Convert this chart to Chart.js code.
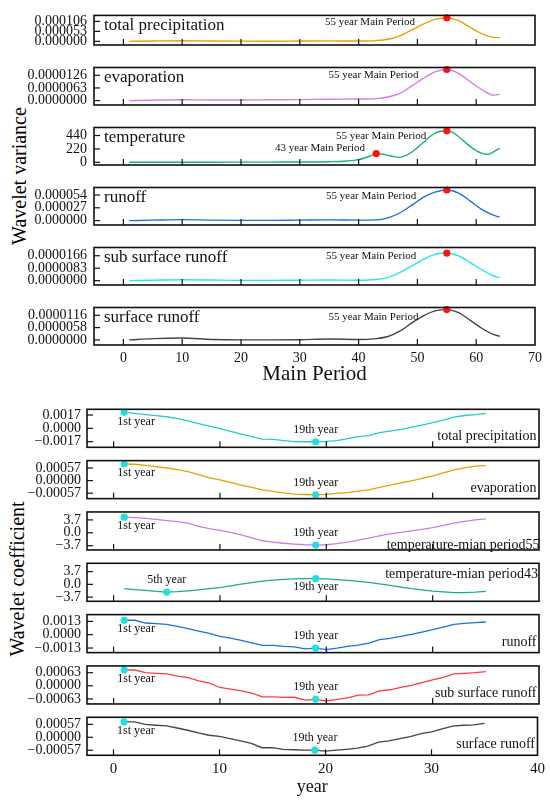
<!DOCTYPE html>
<html><head><meta charset="utf-8">
<script src="https://cdn.jsdelivr.net/npm/chart.js@4.4.0/dist/chart.umd.min.js"></script>
<style>
html,body{margin:0;padding:0;background:#fff;}
#wrap{position:relative;width:550px;height:803px;overflow:hidden;background:#fff;}
canvas{position:absolute;left:0;top:0;}
.ytitle{position:absolute;font-family:"Liberation Serif";font-size:20px;line-height:20px;white-space:nowrap;transform:translate(-50%,-50%) rotate(-90deg);color:#000;}
</style></head><body><div id="wrap">
<div class="ytitle" style="left:19px;top:176px;">Wavelet variance</div>
<div class="ytitle" style="left:17px;top:579px;">Wavelet coefficient</div>
</div>
<script>
// ---------- DATA: wavelet variance (top) ----------
const periods     = [1,5,10,15,20,25,30,35,40,43,45,47,49,51,53,55,57,59,61,63,64];
const varPrecip   = [0,2e-6,3.5e-6,2e-6,1e-6,0.5e-6,1.5e-6,2.5e-6,1.5e-6,4e-6,1.1e-5,2.9e-5,6.0e-5,9.2e-5,1.17e-4,1.256e-4,1.10e-4,7.4e-5,4.0e-5,2.1e-5,1.95e-5];
const varEvap     = [0,2e-7,4e-7,3e-7,3e-7,4e-7,5e-7,7e-7,8e-7,1.0e-6,1.8e-6,3.6e-6,7.2e-6,1.11e-5,1.43e-5,1.55e-5,1.36e-5,9.4e-6,5.4e-6,2.7e-6,3.2e-6];
const tempPeriods = [1,5,10,15,20,25,30,35,38,40,41,42,43,44,45,46,47,48,49,50,51,52,53,54,55,56,57,58,59,60,61,62,63,64];
const varTemp     = [0,1,2,2,3,4,5,10,22,44,71,104,143,137,115,93,82,110,165,242,324,412,478,511,517,490,423,341,258,192,148,132,176,231];
const varRunoff   = [0,1e-6,2e-6,1e-6,0.5e-6,0.5e-6,1e-6,1.5e-6,1e-6,1.5e-6,5.8e-6,1.6e-5,3.2e-5,4.9e-5,6.0e-5,6.45e-5,5.8e-5,4.1e-5,2.3e-5,1.1e-5,7.2e-6];
const varSubSurf  = [0,3e-7,6e-7,4e-7,2e-7,2e-7,3e-7,4e-7,3e-7,8e-7,2.2e-6,5.3e-6,9.7e-6,1.42e-5,1.75e-5,1.84e-5,1.66e-5,1.2e-5,7.1e-6,3.1e-6,1.8e-6];
const varSurf     = [0,6e-7,9e-7,2e-7,0,0,1e-7,4e-7,2e-7,6e-7,1.6e-6,4.1e-6,7.9e-6,1.14e-5,1.37e-5,1.43e-5,1.29e-5,9.2e-6,5.4e-6,2.5e-6,1.7e-6];
const topXTicks   = [0,10,20,30,40,50,60,70];

// ---------- DATA: wavelet coefficient (bottom) ----------
const years = [1,2,3,4,5,6,7,8,9,10,11,12,13,14,15,16,17,18,19,20,21,22,23,24,25,26,27,28,29,30,31,32,33,34,35];
const coefPrecip = [0.00204,0.00192,0.00176,0.00161,0.00148,0.00125,0.00096,0.00061,0.00029,-0.00003,-0.00038,-0.00073,-0.00105,-0.00137,-0.00141,-0.00156,-0.00169,-0.00171,-0.00171,-0.00166,-0.00156,-0.0013,-0.00105,-0.00092,-0.00056,-0.00035,-0.00013,0.00013,0.00042,0.00072,0.00106,0.00144,0.00164,0.00176,0.00192];
const coefEvap   = [0.00075,0.00074,0.00069,0.00063,0.00057,0.0005,0.00041,0.00027,0.00012,0.00003,-0.00008,-0.0002,-0.00031,-0.00042,-0.00049,-0.00056,-0.00061,-0.00063,-0.00064,-0.00062,-0.00058,-0.00054,-0.00048,-0.00042,-0.00031,-0.0002,-0.0001,-0.00001,0.0001,0.00021,0.00035,0.00049,0.00058,0.00065,0.00068];
const coefTemp55 = [4.47,4.33,4.13,3.84,3.5,3.19,2.76,1.85,1.22,0.71,0.14,-0.57,-1.42,-2.28,-2.65,-2.99,-3.22,-3.42,-3.5,-3.42,-3.13,-2.7,-2.13,-1.51,-0.85,-0.28,0.14,0.57,1.0,1.51,2.13,2.76,3.27,3.7,3.98];
const coefTemp43 = [-1.25,-1.51,-1.75,-2.04,-2.24,-2.12,-1.89,-1.6,-1.25,-0.96,-0.44,0.06,0.52,0.96,1.22,1.46,1.6,1.66,1.66,1.6,1.4,1.16,0.87,0.58,0.15,-0.29,-0.79,-1.25,-1.6,-1.95,-2.18,-2.42,-2.42,-2.27,-2.04];
const coefRunoff = [0.00141,0.00141,0.00114,0.00108,0.00101,0.00082,0.00059,0.00035,0.00013,-0.00017,-0.00033,-0.00056,-0.00079,-0.00105,-0.00105,-0.00115,-0.00118,-0.00138,-0.00132,-0.00145,-0.00132,-0.00115,-0.00102,-0.00083,-0.00049,-0.00036,-0.00017,0.00003,0.00026,0.00049,0.00075,0.00101,0.00111,0.00118,0.00124];
const coefSubSurf= [0.00076,0.00076,0.00063,0.0006,0.00057,0.00047,0.00039,0.00024,0.00013,-0.00008,-0.00016,-0.00024,-0.00035,-0.00053,-0.00053,-0.00056,-0.00055,-0.00069,-0.00065,-0.00073,-0.00065,-0.00058,-0.00045,-0.00044,-0.00024,-0.00019,-0.00008,0.00002,0.00015,0.00028,0.00041,0.00057,0.0006,0.00063,0.00068];
const coefSurf   = [0.00068,0.00068,0.00057,0.00053,0.0005,0.00041,0.00031,0.00019,0.00009,0.00004,-0.00006,-0.00016,-0.00027,-0.00046,-0.00046,-0.00053,-0.00055,-0.00057,-0.00057,-0.00061,-0.00057,-0.00053,-0.00048,-0.00039,-0.00021,-0.00016,-0.00006,0.00003,0.00016,0.00024,0.00037,0.00049,0.00053,0.00055,0.00061];
const botXTicks  = [0,10,20,30,40];

// ---------- panel definitions ----------
const topPanels = [
  {name:'total precipitation', xs:periods, ys:varPrecip, color:'#e8a000',
   ticks:[0,0.000053,0.000106], labels:['0.000000','0.000053','0.000106'], ymin:-0.0000195, ymax:0.000138,
   peaks:[55], notes:[['55 year Main Period',49.6,1.018e-4]]},
  {name:'evaporation', xs:periods, ys:varEvap, color:'#d57ce6',
   ticks:[0,0.0000063,0.0000126], labels:['0.0000000','0.0000063','0.0000126'], ymin:-0.0000022, ymax:0.0000165,
   peaks:[55], notes:[['55 year Main Period',50.2,1.26e-5]]},
  {name:'temperature', xs:tempPeriods, ys:varTemp, color:'#18b07a',
   ticks:[0,220,440], labels:['0','220','440'], ymin:-44, ymax:572,
   peaks:[55,43], notes:[['55 year Main Period',51.5,423],['43 year Main Period',41.1,241]]},
  {name:'runoff', xs:periods, ys:varRunoff, color:'#1a6fe6',
   ticks:[0,0.000027,0.000054], labels:['0.000000','0.000027','0.000054'], ymin:-0.0000093, ymax:0.0000698,
   peaks:[55], notes:[['55 year Main Period',49.8,5.25e-5]]},
  {name:'sub surface runoff', xs:periods, ys:varSubSurf, color:'#25e8ea',
   ticks:[0,0.0000083,0.0000166], labels:['0.0000000','0.0000083','0.0000166'], ymin:-0.0000029, ymax:0.0000221,
   peaks:[55], notes:[['55 year Main Period',49.8,1.64e-5]]},
  {name:'surface runoff', xs:periods, ys:varSurf, color:'#444444',
   ticks:[0,0.0000058,0.0000116], labels:['0.0000000','0.0000058','0.0000116'], ymin:-0.0000024, ymax:0.0000153,
   peaks:[55], notes:[['55 year Main Period',50.2,1.08e-5]]}
];
const botPanels = [
  {name:'total precipitation', ys:coefPrecip, color:'#22cccc', ticks:[-0.0017,0,0.0017], labels:['\u22120.0017','0.0000','0.0017'], ymin:-0.00242, ymax:0.00243, marks:[1,19], nameAt:'bottom'},
  {name:'evaporation', ys:coefEvap, color:'#e8a000', ticks:[-0.00057,0,0.00057], labels:['\u22120.00057','0.00000','0.00057'], ymin:-0.000816, ymax:0.000903, marks:[1,19], nameAt:'bottom'},
  {name:'temperature-mian period55', ys:coefTemp55, color:'#cf7ae4', ticks:[-3.7,0,3.7], labels:['\u22123.7','0.0','3.7'], ymin:-4.92, ymax:5.98, marks:[1,19], nameAt:'edge'},
  {name:'temperature-mian period43', ys:coefTemp43, color:'#18b07a', ticks:[-3.7,0,3.7], labels:['\u22123.7','0.0','3.7'], ymin:-4.9, ymax:6.1, marks:[5,19], nameAt:'top'},
  {name:'runoff', ys:coefRunoff, color:'#1a6fe6', ticks:[-0.0013,0,0.0013], labels:['\u22120.0013','0.0000','0.0013'], ymin:-0.00175, ymax:0.00196, marks:[1,19], nameAt:'bottom'},
  {name:'sub surface runoff', ys:coefSubSurf, color:'#ff3c3c', ticks:[-0.00063,0,0.00063], labels:['\u22120.00063','0.00000','0.00063'], ymin:-0.000872, ymax:0.000955, marks:[1,19], nameAt:'bottom'},
  {name:'surface runoff', ys:coefSurf, color:'#444444', ticks:[-0.00057,0,0.00057], labels:['\u22120.00057','0.00000','0.00057'], ymin:-0.000793, ymax:0.000882, marks:[1,19], nameAt:'bottom'}
];
const markLabels = {1:'1st year',5:'5th year',19:'19th year'};

// ---------- layout ----------
const W = 550, H = 803;
const FONT = 'Liberation Serif';
Chart.defaults.font.family = FONT;
Chart.defaults.color = '#000';
const wrap = document.getElementById('wrap');

function makeChart(opt) {
  const cv = document.createElement('canvas');
  cv.width = W; cv.height = H;
  cv.style.width = W + 'px'; cv.style.height = H + 'px';
  wrap.appendChild(cv);
  const last = opt.last;
  const plugin = {
    id: 'frame' + Math.random().toString(36).slice(2),
    afterDraw(chart) {
      const {ctx, chartArea: a, scales: {x, y}} = chart;
      ctx.save();
      ctx.strokeStyle = '#111';
      ctx.lineWidth = 1.2;
      opt.xTicks.forEach(v => {
        const px = x.getPixelForValue(v);
        if (px > a.left + 1 && px < a.right - 1) {
          ctx.beginPath(); ctx.moveTo(px, a.bottom); ctx.lineTo(px, a.bottom - 6); ctx.stroke();
        }
      });
      opt.ticks.forEach(v => {
        const py = y.getPixelForValue(v);
        ctx.beginPath(); ctx.moveTo(a.left, py); ctx.lineTo(a.left + 6, py); ctx.stroke();
      });
      ctx.lineWidth = 1.6;
      ctx.strokeRect(a.left, a.top, a.right - a.left, a.bottom - a.top);
      ctx.fillStyle = '#111';
      opt.drawText(ctx, a, x, y);
      ctx.restore();
    }
  };
  return new Chart(cv, {
    type: 'line',
    data: {datasets: opt.datasets},
    options: {
      responsive: false, animation: false, devicePixelRatio: window.devicePixelRatio || 1,
      layout: {padding: {left: 0, right: W - opt.right, top: opt.top, bottom: H - opt.bottom - (last ? opt.axisH : 0)}},
      plugins: {legend: {display: false}, tooltip: {enabled: false}},
      scales: {
        x: {
          type: 'linear', min: opt.xmin, max: opt.xmax,
          grid: {display: false, drawTicks: false}, border: {display: false},
          afterBuildTicks: s => { s.ticks = opt.xTicks.map(v => ({value: v})); },
          afterFit: s => { s.height = last ? opt.axisH : 0; },
          ticks: {display: last, autoSkip: false, maxRotation: 0, padding: opt.xPad,
                  font: {family: FONT, size: opt.xFont}, color: '#111', callback: v => String(v)},
          title: {display: last, text: opt.xTitle, padding: 0, color: '#111',
                  font: {family: FONT, size: opt.xTitleFont}}
        },
        y: {
          type: 'linear', min: opt.ymin, max: opt.ymax,
          grid: {display: false, drawTicks: false}, border: {display: false},
          afterBuildTicks: s => { s.ticks = opt.ticks.map(v => ({value: v})); },
          afterFit: s => { s.width = opt.left; },
          ticks: {autoSkip: false, padding: opt.yPad, color: '#111',
                  font: {family: FONT, size: 14}, callback: (v, i) => opt.labels[i]}
        }
      }
    },
    plugins: [plugin]
  });
}

// top group
topPanels.forEach((p, i) => {
  const top = 7.5 + 60 * i, bottom = top + 37.5;
  const dots = p.peaks.map(px => ({x: px, y: p.ys[p.xs.indexOf(px)]}));
  makeChart({
    left: 94, right: 535, top, bottom, last: i === topPanels.length - 1, axisH: 42,
    xmin: -5, xmax: 70, xTicks: topXTicks, xPad: 5, xFont: 14, xTitle: 'Main Period', xTitleFont: 21,
    ymin: p.ymin, ymax: p.ymax, ticks: p.ticks, labels: p.labels, yPad: 7,
    datasets: [
      {data: dots, showLine: false, pointRadius: 3.6, pointBackgroundColor: '#ff1010', pointBorderWidth: 0, clip: false},
      {data: p.xs.map((x, k) => ({x, y: p.ys[k]})), borderColor: p.color, borderWidth: 1.4, pointRadius: 0,
       cubicInterpolationMode: 'monotone', fill: false}
    ],
    drawText(ctx, a, x, y) {
      ctx.textBaseline = 'middle';
      ctx.font = '17px "' + FONT + '"';
      ctx.textAlign = 'left';
      ctx.fillText(p.name, a.left + 10, a.top + 10);
      ctx.font = '11px "' + FONT + '"';
      ctx.textAlign = 'right';
      p.notes.forEach(n => ctx.fillText(n[0], x.getPixelForValue(n[1]), y.getPixelForValue(n[2])));
    }
  });
});

// bottom group
botPanels.forEach((p, i) => {
  const top = 409.3 + 51.33 * i, bottom = top + 38;
  const dots = p.marks.map(m => ({x: m, y: p.ys[years.indexOf(m)]}));
  makeChart({
    left: 87, right: 539, top, bottom, last: i === botPanels.length - 1, axisH: 43,
    xmin: -2.5, xmax: 40, xTicks: botXTicks, xPad: 5, xFont: 15, xTitle: 'year', xTitleFont: 18,
    ymin: p.ymin, ymax: p.ymax, ticks: p.ticks, labels: p.labels, yPad: 6,
    datasets: [
      {data: dots, showLine: false, pointRadius: 3.6, pointBackgroundColor: '#22dede', pointBorderWidth: 0, clip: false},
      {data: years.map((x, k) => ({x, y: p.ys[k]})), borderColor: p.color, borderWidth: 1.3, pointRadius: 0,
       tension: 0, fill: false}
    ],
    drawText(ctx, a, x, y) {
      ctx.textBaseline = 'middle';
      ctx.font = '12px "' + FONT + '"';
      dots.forEach(d => {
        const px = x.getPixelForValue(d.x), py = y.getPixelForValue(d.y);
        if (d.x === 1) { ctx.textAlign = 'left'; ctx.fillText(markLabels[1], px - 7, py + 9); }
        else if (d.x === 19 && p.nameAt === 'top') { ctx.textAlign = 'center'; ctx.fillText(markLabels[19], px, py + 8.5); }
        else { ctx.textAlign = 'center'; ctx.fillText(markLabels[d.x], px, py - 12); }
      });
      ctx.font = '14px "' + FONT + '"';
      ctx.textAlign = 'right';
      if (p.nameAt === 'top') ctx.fillText(p.name, a.right - 1, a.top + 10.7);
      else if (p.nameAt === 'edge') ctx.fillText(p.name, a.right + 0.5, a.bottom - 5);
      else ctx.fillText(p.name, a.right - 2.5, a.bottom - 10.5);
    }
  });
});
</script>
</body></html>
